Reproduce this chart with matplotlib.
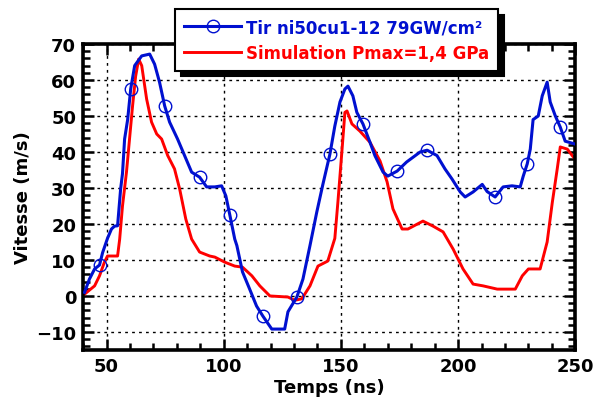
import matplotlib
matplotlib.use("Agg")
import matplotlib.pyplot as plt
from matplotlib.ticker import MultipleLocator
from matplotlib.lines import Line2D

# Data
tir_t = [40.6, 42.7, 44.9, 47.0, 48.3, 50.4, 52.1, 53.4, 54.7, 56.0, 56.8, 57.7, 59.0, 60.3,
         62.0, 65.0, 68.4, 70.5, 72.6, 74.8, 76.9, 80.3, 83.3, 86.3, 89.7, 92.7, 96.2, 99.1,
         100.9, 102.6, 104.7, 105.6, 108.0, 111.0, 114.0, 116.7, 120.5, 126.0, 127.4, 131.2,
         133.8, 136.8, 139.7, 142.3, 145.3, 147.4, 149.6, 151.7, 153.0, 155.1, 156.8, 159.4,
         162.4, 164.5, 168.0, 170.0, 174.0, 178.0, 183.8, 186.8, 191.0, 194.4, 197.4, 200.9,
         203.0, 206.4, 210.3, 212.4, 215.8, 219.2, 223.0, 226.5, 227.8, 229.5, 230.8, 232.0,
         234.2, 235.9, 238.0, 239.3, 241.5, 243.6, 245.7, 250.0]
tir_v = [1.0, 4.7, 7.5, 8.6, 12.0, 16.0, 18.6, 19.4, 19.5, 29.7, 34.0, 43.6, 49.0, 57.5,
         64.0, 66.7, 67.2, 64.4, 59.4, 52.8, 48.3, 43.6, 39.0, 34.4, 33.0, 30.3, 30.3, 30.6,
         27.8, 22.5, 15.8, 14.0, 6.7, 2.0, -2.8, -5.6, -9.2, -9.2, -4.4, -0.3,
         4.7, 14.0, 23.3, 31.0, 39.4, 47.2, 53.9, 57.5, 58.3, 55.6, 51.0, 47.8,
         42.7, 39.0, 34.4, 33.3, 34.7, 37.2, 40.0, 40.5, 39.0, 35.3, 32.5, 28.9,
         27.5, 28.9, 31.0, 29.0, 27.5, 30.3, 30.6, 30.3, 33.3, 36.7, 40.8, 49.0,
         50.0, 55.6, 59.4, 53.9, 50.0, 46.9, 43.0, 42.2]
tir_marker_t = [47.0, 60.3, 74.8, 89.7, 102.6, 116.7, 131.2, 145.3, 159.4, 174.0, 186.8,
                215.8, 229.5, 243.6]

sim_t = [40.6, 44.9, 47.0, 49.1, 50.4, 54.7, 55.6, 56.8, 58.5, 59.8, 61.1, 62.4, 63.7, 65.0,
         67.1, 69.2, 71.4, 73.5, 76.1, 79.0, 81.2, 83.8, 86.3, 89.7, 94.0, 96.2, 100.4, 104.7,
         108.0, 112.0, 115.4, 119.7, 127.4, 130.3, 133.3, 136.8, 140.2, 144.4, 147.4, 148.7,
         150.4, 151.7, 152.6, 154.7, 158.1, 162.4, 166.7, 169.7, 172.2, 176.1, 178.6, 185.0,
         189.3, 193.6, 197.9, 202.1, 206.4, 210.7, 216.7, 224.4, 227.4, 230.0, 235.0, 238.0,
         240.2, 242.3, 243.6, 246.6, 248.7, 250.0]
sim_v = [0.5, 2.8, 5.6, 9.4, 11.1, 11.1, 15.8, 25.0, 34.4, 43.6, 52.8, 61.0, 65.8, 64.0,
         54.7, 48.3, 45.0, 43.6, 39.0, 35.3, 29.7, 21.4, 15.8, 12.2, 11.1, 10.8, 9.4, 8.3,
         8.0, 5.6, 2.8, 0.0, -0.3, -1.2, -0.8, 2.8, 8.3, 9.7, 16.0, 26.0,
         40.0, 51.0, 51.4, 47.8, 45.8, 42.7, 37.5, 31.7, 24.2, 18.6, 18.6, 20.8,
         19.4, 17.8, 13.0, 7.5, 3.3, 2.8, 1.9, 1.9, 5.6, 7.5, 7.5, 15.0,
         26.0, 35.3, 41.4, 40.8, 39.0, 38.0]

x_ticks = [50, 100, 150, 200, 250]
y_ticks = [-10, 0, 10, 20, 30, 40, 50, 60, 70]
tir_label = "Tir ni50cu1-12 79GW/cm²"
sim_label = "Simulation Pmax=1,4 GPa"

plt.rcParams['font.family'] = ['DejaVu Sans']
plt.rcParams['font.weight'] = 'bold'

fig = plt.figure(figsize=(5.98, 4.02), dpi=100)
ax = fig.add_axes([0.139, 0.127, 0.823, 0.761])

BLUE = '#0010d0'
RED = '#ff0000'

marker_idx = [tir_t.index(m) for m in tir_marker_t]
ax.plot(tir_t, tir_v, color=BLUE, lw=2.2, zorder=3,
        marker='o', markevery=marker_idx, markersize=9, markerfacecolor='none',
        markeredgecolor=BLUE, markeredgewidth=1.0)
ax.plot(sim_t, sim_v, color=RED, lw=2.1, zorder=2)

ax.set_xlim(40, 250)
ax.set_ylim(-15, 70)
ax.set_xticks(x_ticks)
ax.set_yticks(y_ticks)
ax.xaxis.set_minor_locator(MultipleLocator(10))
ax.yaxis.set_minor_locator(MultipleLocator(2))
ax.tick_params(which='both', direction='in', top=True, right=True, width=1.8, labelsize=13)
ax.tick_params(which='major', length=8, pad=5)
ax.tick_params(which='minor', length=5)
for lab in ax.get_xticklabels() + ax.get_yticklabels():
    lab.set_fontweight('bold')
for s in ax.spines.values():
    s.set_linewidth(2.6)
ax.grid(True, which='major', color='black', linestyle=(0, (2, 3)), linewidth=1.0)

ax.set_xlabel("Temps (ns)", fontsize=13, fontweight='bold', labelpad=2)
ax.set_ylabel("Vitesse (m/s)", fontsize=13, fontweight='bold', labelpad=3)

handles = [Line2D([], [], color=BLUE, lw=2.2, marker='o', markersize=9,
                  markerfacecolor='none', markeredgewidth=1.0),
           Line2D([], [], color=RED, lw=2.1)]
leg = fig.legend(handles, [tir_label, sim_label], loc='upper left',
                 bbox_to_anchor=(175 / 598, 1 - 10 / 402), borderaxespad=0,
                 fancybox=False,
                 shadow={'color': 'black', 'alpha': 1.0, 'ox': 4, 'oy': -4},
                 framealpha=1, edgecolor='black', handlelength=3.4,
                 prop={'weight': 'bold', 'size': 12}, borderpad=0.55,
                 labelspacing=0.45, handletextpad=0.3)
leg.get_frame().set_linewidth(1.5)
leg.texts[0].set_color(BLUE)
leg.texts[1].set_color(RED)

fig.savefig("out.png", dpi=100)
